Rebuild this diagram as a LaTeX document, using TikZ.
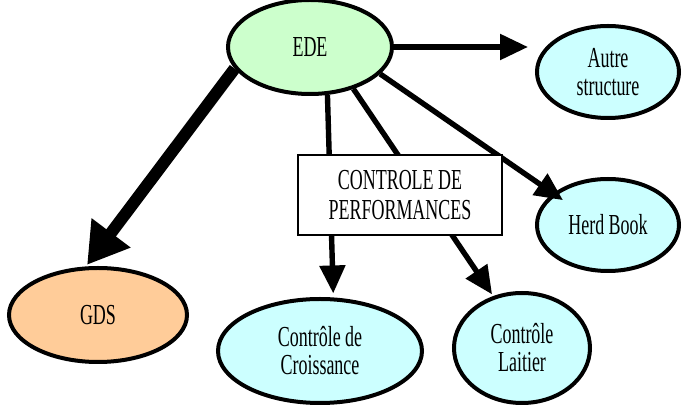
\documentclass[tikz,border=0pt]{standalone}
\usepackage{fontspec}
\setmainfont[FakeStretch=0.62]{Liberation Serif}
\usetikzlibrary{shapes.geometric,arrows.meta}
\definecolor{orgGreen}{HTML}{CCFFCC}
\definecolor{orgCyan}{HTML}{CCFFFF}
\definecolor{orgOrange}{HTML}{FFCC99}
\tikzset{
    oval/.style={ellipse, draw=black, line width=2pt, inner sep=0pt, align=center, font=\rmfamily\fontsize{14.5}{14}\selectfont},
    ogreen/.style={oval, fill=orgGreen},
    ocyan/.style={oval, fill=orgCyan},
    oorange/.style={oval, fill=orgOrange},
    perfbox/.style={draw=black, line width=1pt, fill=white, inner sep=0pt, minimum width=102pt, minimum height=40pt, align=center, font=\rmfamily\fontsize{14.5}{15}\selectfont},
    oline/.style={-{Triangle[length=14pt, width=12.5pt]}, line width=2.7pt},
    bigline/.style={-{Triangle[length=20pt, width=23pt]}, line width=6pt}
}

\begin{document}
\begin{tikzpicture}[x=0.5pt, y=-0.5pt]
    \useasboundingbox (0,0) rectangle (682,406);
    % noeuds
    \node[ogreen, minimum width=82pt, minimum height=47pt] (ede) at (310,47) {EDE};
    \node[ocyan, minimum width=71pt, minimum height=46pt] (autre) at (608,72) {Autre\\structure};
    \node[ocyan, minimum width=71pt, minimum height=46pt] (herd) at (608,225) {Herd Book};
    \node[oorange, minimum width=89pt, minimum height=47pt] (gds) at (98,315) {GDS};
    \node[ocyan, minimum width=102pt, minimum height=52pt] (croiss) at (320,351) {Contrôle de\\Croissance};
    \node[ocyan, minimum width=68pt, minimum height=55pt] (lait) at (522,348) {Contrôle\\Laitier};
    % fleches
    \draw[oline, shorten >=3.5pt] (ede.east) -- (ede.east -| autre.west);
    \draw[oline, shorten >=-6pt] (ede.-21) -- (herd.150);
    \draw[oline, shorten >=2pt] (ede.-70) -- (croiss.76);
    \draw[oline, shorten >=1pt] (ede.-44) -- (lait.119);
    \draw[bigline, shorten >=1pt] (ede.196) -- (gds.104);
    % cadre
    \node[perfbox] (perf) at (400,195) {CONTROLE DE\\PERFORMANCES};
\end{tikzpicture}
\end{document}
